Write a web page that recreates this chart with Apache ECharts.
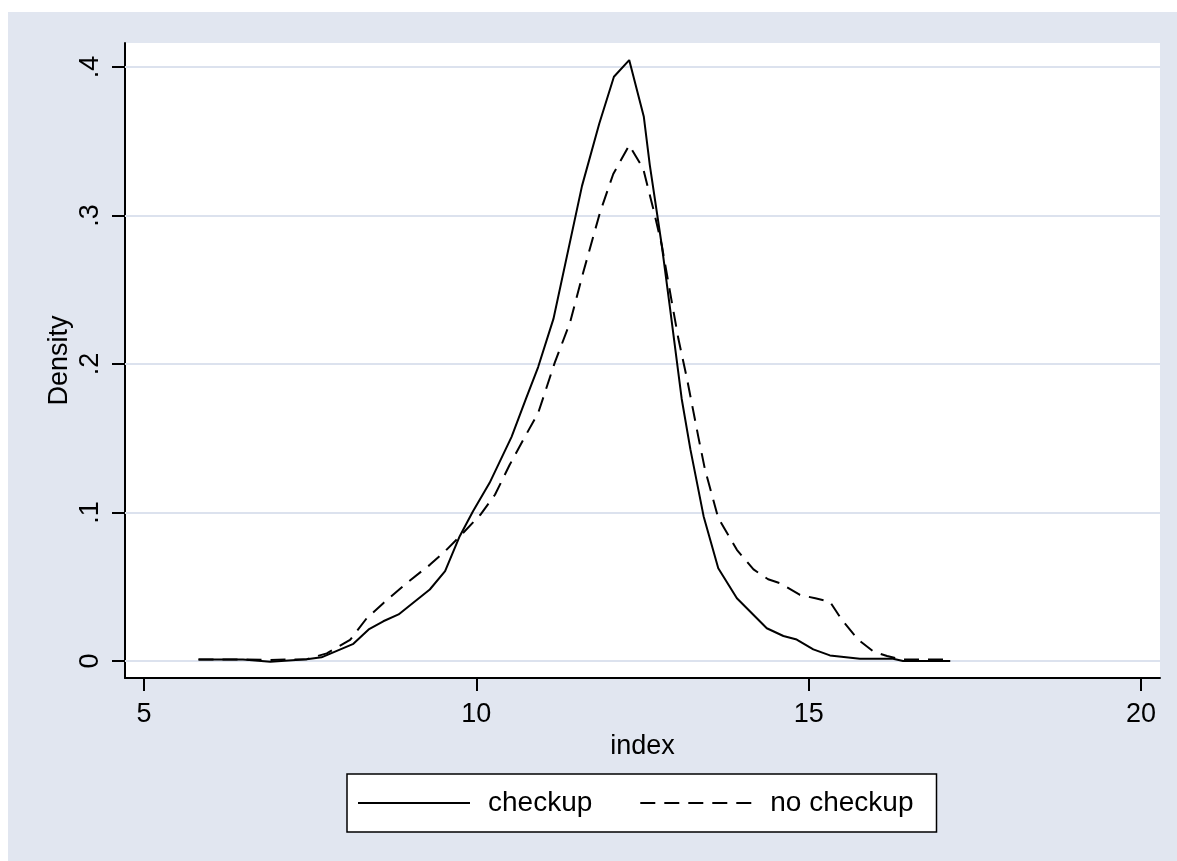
<!DOCTYPE html>
<html>
<head>
<meta charset="utf-8">
<script src="https://cdn.jsdelivr.net/npm/echarts@6/dist/echarts.min.js"></script>
<style>
  html, body { margin: 0; padding: 0; background: #ffffff; }
  #chart { width: 1177px; height: 861px; }
</style>
</head>
<body>
<div id="chart"></div>
<script>
// ---- data ----
const seriesNames = ['checkup', 'no checkup'];

const checkupX = [5.82, 6.49, 6.90, 7.45, 7.67, 8.15, 8.38, 8.60, 8.83, 9.30, 9.53, 9.75, 9.95, 10.20, 10.53, 10.75, 10.93, 11.16, 11.59, 11.85, 12.07, 12.30, 12.52, 12.61, 12.79, 12.91, 13.09, 13.22, 13.42, 13.64, 13.92, 14.37, 14.62, 14.82, 15.07, 15.32, 15.77, 16.27, 16.42, 17.13];
const checkupY = [0.0011, 0.0011, -0.0004, 0.0013, 0.0025, 0.0116, 0.0213, 0.0268, 0.0314, 0.0482, 0.0606, 0.0841, 0.1009, 0.1200, 0.1510, 0.1770, 0.1980, 0.2304, 0.3200, 0.3620, 0.3935, 0.4047, 0.3665, 0.3340, 0.2800, 0.2390, 0.1765, 0.1427, 0.0974, 0.0625, 0.0423, 0.0221, 0.0169, 0.0145, 0.0079, 0.0038, 0.0016, 0.0016, 0.0000, 0.0000];

const noCheckupX = [5.82, 6.49, 6.90, 7.45, 7.75, 8.10, 8.35, 8.60, 8.95, 9.30, 9.55, 9.80, 10.06, 10.28, 10.50, 10.73, 10.93, 11.18, 11.41, 11.61, 11.86, 12.06, 12.30, 12.51, 12.66, 12.79, 12.94, 13.04, 13.17, 13.34, 13.44, 13.64, 13.92, 14.17, 14.39, 14.57, 14.87, 15.10, 15.32, 15.50, 15.75, 15.98, 16.18, 16.38, 17.08];
const noCheckupY = [0.0011, 0.0011, 0.0008, 0.0013, 0.0052, 0.0142, 0.0288, 0.0390, 0.0525, 0.0648, 0.0749, 0.0862, 0.0985, 0.1120, 0.1320, 0.1510, 0.1670, 0.2010, 0.2280, 0.2620, 0.3020, 0.3280, 0.3474, 0.3316, 0.3050, 0.2800, 0.2420, 0.2170, 0.1900, 0.1510, 0.1290, 0.0963, 0.0749, 0.0617, 0.0551, 0.0524, 0.0445, 0.0423, 0.0400, 0.0277, 0.0142, 0.0063, 0.0034, 0.0011, 0.0011];

const xTickValues = [5, 10, 15, 20];
const xTickLabels = ['5', '10', '15', '20'];
const yTickValues = [0, 0.1, 0.2, 0.3, 0.4];
const yTickLabels = ['0', '.1', '.2', '.3', '.4'];

const xAxisTitle = 'index';
const yAxisTitle = 'Density';

// ---- build ----
function pairs(xs, ys) { return xs.map((x, i) => [x, ys[i]]); }
function lookup(vals, labels) {
  return function (v) {
    for (let i = 0; i < vals.length; i++) if (Math.abs(vals[i] - v) < 1e-9) return labels[i];
    return '';
  };
}

const FONT = "'Liberation Sans', Arial, sans-serif";
const chart = echarts.init(document.getElementById('chart'), null, { renderer: 'canvas' });

const option = {
  animation: false,
  backgroundColor: 'transparent',
  graphic: [{
    type: 'rect', z: -10, silent: true,
    shape: { x: 8, y: 12, width: 1177 - 8, height: 861 - 12 },
    style: { fill: '#E1E6F0' }
  }],
  grid: {
    left: 125, top: 43, width: 1035, height: 635,
    show: true, backgroundColor: '#ffffff', borderWidth: 0,
    containLabel: false
  },
  legend: {
    left: 347, top: 774,
    orient: 'horizontal',
    backgroundColor: '#ffffff',
    borderColor: '#000000', borderWidth: 1.5, borderRadius: 0,
    padding: [15, 23, 15, 10],
    itemWidth: 112, itemHeight: 14, itemGap: 47,
    itemStyle: { opacity: 0 },
    textStyle: { fontFamily: FONT, fontSize: 28, color: '#000' },
    data: [
      { name: seriesNames[0], textStyle: { padding: [0, 0, 0, 13] } },
      { name: seriesNames[1], textStyle: { padding: [0, 0, 0, 13] } }
    ],
    selectedMode: false
  },
  xAxis: {
    type: 'value', min: 4.714, max: 20.286,
    name: xAxisTitle, nameLocation: 'middle', nameGap: 55, nameMoveOverlap: false,
    nameTextStyle: { fontFamily: FONT, fontSize: 27, color: '#000' },
    axisLine: { show: true, onZero: false, lineStyle: { color: '#000', width: 2 } },
    axisTick: { show: true, length: 13, inside: false, customValues: xTickValues, lineStyle: { color: '#000', width: 2 } },
    axisLabel: { show: true, customValues: xTickValues, formatter: lookup(xTickValues, xTickLabels), margin: 23, fontFamily: FONT, fontSize: 27, color: '#000' },
    splitLine: { show: false }
  },
  yAxis: {
    type: 'value', min: -0.0114, max: 0.4162,
    name: yAxisTitle, nameLocation: 'middle', nameGap: 52, nameMoveOverlap: false,
    nameTextStyle: { fontFamily: FONT, fontSize: 27, color: '#000' },
    axisLine: { show: true, onZero: false, lineStyle: { color: '#000', width: 2 } },
    axisTick: { show: true, length: 13, inside: false, customValues: yTickValues, lineStyle: { color: '#000', width: 2 } },
    axisLabel: { show: true, rotate: 90, customValues: yTickValues, formatter: lookup(yTickValues, yTickLabels), margin: 21, fontFamily: FONT, fontSize: 27, color: '#000' },
    splitLine: { show: false }
  },
  series: [
    {
      name: seriesNames[0], type: 'line', data: pairs(checkupX, checkupY),
      symbol: 'none', showSymbol: false, smooth: false, z: 5,
      lineStyle: { color: '#000', width: 2, type: 'solid' },
      itemStyle: { color: '#000' },
      markLine: {
        silent: true, symbol: 'none', z: 1,
        label: { show: false },
        lineStyle: { color: '#DCE2EE', width: 2, type: 'solid' },
        data: yTickValues.map(v => ({ yAxis: v }))
      }
    },
    {
      name: seriesNames[1], type: 'line', data: pairs(noCheckupX, noCheckupY),
      symbol: 'none', showSymbol: false, smooth: false, z: 5,
      lineStyle: { color: '#000', width: 2, type: [15, 9] },
      itemStyle: { color: '#000' }
    }
  ]
};
chart.setOption(option);
</script>
</body>
</html>
